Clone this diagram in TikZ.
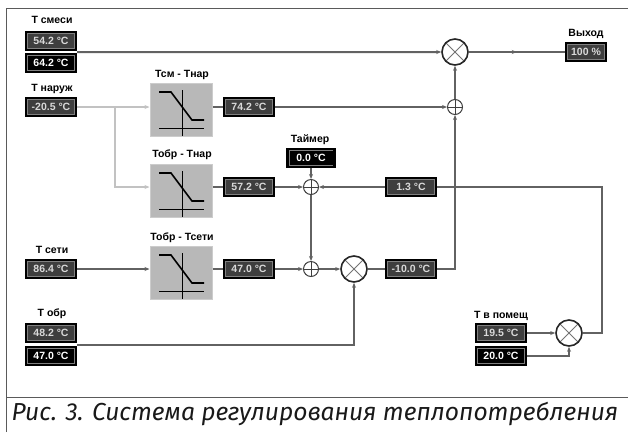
\documentclass[tikz,border=0pt]{standalone}
\usepackage{fontspec}
\setmainfont{Liberation Sans}
\newfontfamily\capfont{Fira Sans}
\usetikzlibrary{arrows.meta, positioning, calc, decorations.markings}
\definecolor{cline}{HTML}{626262}
\definecolor{clight}{HTML}{C2C2C2}
\definecolor{cdisp}{HTML}{3E3E3E}
\definecolor{cblock}{HTML}{B8B8B8}
\definecolor{cframe}{HTML}{5A5A5A}
\tikzset{
  every picture/.style={line width=2pt},
  lbl/.style={font=\bfseries\fontsize{10.5}{12}\selectfont, inner sep=0pt},
  disp/.style={draw=black, fill=#1, line width=2.4pt, minimum width=50pt, minimum height=18pt, inner sep=0pt,
    font=\bfseries\fontsize{10.5}{12}\selectfont, text=white,
    path picture={\draw[line width=0.6pt, draw=gray] ([shift={(1.5,1.5)}]path picture bounding box.north west) rectangle ([shift={(-1.5,-1.5)}]path picture bounding box.south east);}},
  disp/.default=cdisp,
  grey/.style={text=black!15},
  fblock/.style={draw=black!20, fill=cblock, line width=1pt, minimum width=62pt, minimum height=53pt, inner sep=0pt,
    path picture={
      \draw[black, line width=1pt] ([shift={(1,-20)}]path picture bounding box.center) -- ([shift={(1,27)}]path picture bounding box.center);
      \draw[black, line width=1pt] ([shift={(-22,18.5)}]path picture bounding box.center) -- ([shift={(23,18.5)}]path picture bounding box.center);
      \draw[black, line width=1.6pt] ([shift={(-22,-18)}]path picture bounding box.center) -- ([shift={(-10,-18)}]path picture bounding box.center)
        -- ([shift={(11,10)}]path picture bounding box.center) -- ([shift={(23,10)}]path picture bounding box.center);}},
  sumn/.style={circle, draw=black!75, fill=white, line width=1pt, minimum size=15pt, inner sep=0pt,
    path picture={\draw[line width=1pt, black!75] (path picture bounding box.north) -- (path picture bounding box.south)
      (path picture bounding box.west) -- (path picture bounding box.east);}},
  mult/.style={circle, draw=black!85, fill=white, line width=1.6pt, minimum size=26pt, inner sep=0pt,
    path picture={\draw[line width=0.9pt, black!55] (path picture bounding box.north west) -- (path picture bounding box.south east)
      (path picture bounding box.north east) -- (path picture bounding box.south west);}},
  arrow/.style={-{Stealth[length=5pt, width=4pt]}, draw=cline},
  midarrow/.style={draw=cline, postaction={decorate},
    decoration={markings, mark=at position 0.5 with {\arrow[cline]{Stealth[length=5pt, width=4pt]}}}},
  lline/.style={draw=clight},
}

\begin{document}
\begin{tikzpicture}[x=1pt, y=-1pt]
  \useasboundingbox (0,0) rectangle (628,432);
  % frame and caption
  \draw[cframe, line width=1pt] (6,432) -- (6,8) -- (628,8);
  \draw[cframe, line width=1pt] (6,397) -- (628,397);
  \node[font=\capfont\itshape\fontsize{24.6}{28}\selectfont, text=black!90, inner sep=0pt] (cap) at (315,414) {Рис. 3. Система регулирования теплопотребления};

  % inputs on the left
  \node[lbl] (lsm) at (52,20) {Т смеси};
  \node[disp, grey] (sm1) at (51,41) {54.2 °C};
  \node[disp=black] (sm2) at (51,63) {64.2 °C};
  \coordinate (smj) at ($(sm1.south east)!0.5!(sm2.north east)$);
  \node[lbl] (lnr) at (52,89) {Т наруж};
  \node[disp, grey] (nr) at (51,107) {-20.5 °C};
  \node[lbl] (lst) at (52,250) {Т сети};
  \node[disp, grey] (st) at (51,269) {86.4 °C};
  \node[lbl] (lob) at (52,314) {Т обр};
  \node[disp, grey] (ob1) at (51,333) {48.2 °C};
  \node[disp=black] (ob2) at (51,356) {47.0 °C};
  \coordinate (obj) at ($(ob1.south east)!0.5!(ob2.north east)$);

  % characteristic blocks
  \node[lbl] (lf1) at (182,75) {Тсм - Тнар};
  \node[fblock] (f1) at (181,110) {};
  \node[lbl] (lf2) at (182,155) {Тобр - Тнар};
  \node[fblock] (f2) at (181,191) {};
  \node[lbl] (lf3) at (182,238) {Тобр - Тсети};
  \node[fblock] (f3) at (181,273) {};
  \node[disp, grey] (t1) at (249,107) {74.2 °C};
  \node[disp, grey] (t2) at (249,187) {57.2 °C};
  \node[disp, grey] (t3) at (249,269) {47.0 °C};

  % summing and multiplying points
  \node[lbl] (ltm) at (310,140) {Таймер};
  \node[disp=black, minimum width=47pt] (tm) at (311,158) {0.0 °C};
  \node[sumn] (pl2) at (311,187) {};
  \node[sumn] (pl3) at (311,269) {};
  \node[mult] (mx3) at (354,269) {};
  \node[disp, grey] (dif) at (411,269) {-10.0 °C};
  \node[disp, grey] (ts) at (411,187) {1.3 °C};
  \node[sumn] (pl1) at (455,107) {};
  \node[mult] (mx1) at (455,52) {};
  \node[lbl] (lout) at (586,34) {Выход};
  \node[disp, grey, minimum width=40pt] (out) at (586,52) {100 \%};

  % room temperature
  \node[lbl] (lpm) at (501,316) {Т в помещ};
  \node[disp, grey] (pm1) at (501,333) {19.5 °C};
  \node[disp=black] (pm2) at (501,356) {20.0 °C};
  \node[mult] (mx2) at (569,333) {};
  \coordinate (rt) at (602,187);

  % outdoor branch
  \coordinate (jn) at (115,107);
  \coordinate (jn2) at (115,187);
  \draw[lline] (nr) -- (jn);
  \draw[lline, arrow, draw=clight] (jn) -- (jn -| f1.west);
  \draw[lline, arrow, draw=clight] (jn) -- (jn2) -- (jn2 -| f2.west);

  % connectors
  \draw[draw=cline] (f1.east |- t1) -- (t1);
  \draw[arrow] (t1) -- (pl1);
  \draw[arrow] (pl1) -- (mx1);
  \draw[arrow] (smj) -- (mx1);
  \draw[midarrow] (mx1) -- (out);
  \draw[draw=cline] (f2.east |- t2) -- (t2);
  \draw[arrow] (t2) -- (pl2);
  \draw[arrow] (tm) -- (pl2);
  \draw[arrow] (pl2) -- (pl3);
  \draw[arrow] (st) -- (st -| f3.west);
  \draw[draw=cline] (f3.east |- t3) -- (t3);
  \draw[arrow] (t3) -- (pl3);
  \draw[arrow] (pl3) -- (mx3);
  \draw[draw=cline] (mx3) -- (dif);
  \draw[arrow] (dif) -| (pl1);
  \draw[arrow] (obj) -| (mx3);
  \draw[arrow] (pm1) -- (mx2);
  \draw[arrow] (pm2) -| (mx2);
  \draw[draw=cline] (mx2) -| (rt) -- (ts);
  \draw[arrow] (ts) -- (pl2);
\end{tikzpicture}
\end{document}
